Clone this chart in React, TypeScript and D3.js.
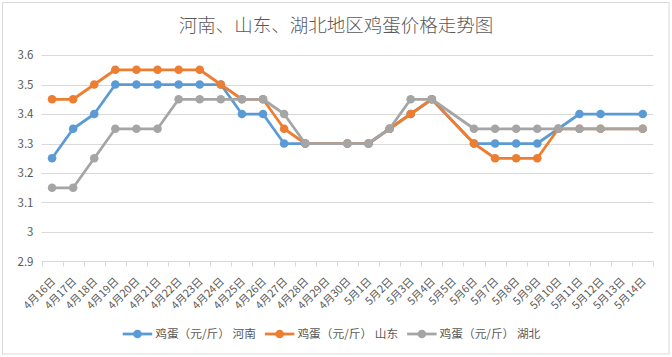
import React from "react";
import * as d3 from "d3";

const dates = [
  "4月16日","4月17日","4月18日","4月19日","4月20日","4月21日","4月22日","4月23日","4月24日","4月25日",
  "4月26日","4月27日","4月28日","4月29日","4月30日","5月1日","5月2日","5月3日","5月4日","5月5日",
  "5月6日","5月7日","5月8日","5月9日","5月10日","5月11日","5月12日","5月13日","5月14日",
];
const henan: (number | null)[] = [
  3.25,3.35,3.4,3.5,3.5,3.5,3.5,3.5,3.5,3.4,
  3.4,3.3,3.3,null,3.3,3.3,3.35,3.4,3.45,null,
  3.3,3.3,3.3,3.3,3.35,3.4,3.4,null,3.4,
];
const shandong: (number | null)[] = [
  3.45,3.45,3.5,3.55,3.55,3.55,3.55,3.55,3.5,3.45,
  3.45,3.35,3.3,null,3.3,3.3,3.35,3.4,3.45,null,
  3.3,3.25,3.25,3.25,3.35,3.35,3.35,null,3.35,
];
const hubei: (number | null)[] = [
  3.15,3.15,3.25,3.35,3.35,3.35,3.45,3.45,3.45,3.45,
  3.45,3.4,3.3,null,3.3,3.3,3.35,3.45,3.45,null,
  3.35,3.35,3.35,3.35,3.35,3.35,3.35,null,3.35,
];
const yTicks = [2.9, 3, 3.1, 3.2, 3.3, 3.4, 3.5, 3.6];
const seriesNames = ["鸡蛋（元/斤） 河南", "鸡蛋（元/斤） 山东", "鸡蛋（元/斤） 湖北"];
const seriesColors = ["#5B9BD5", "#ED7D31", "#A5A5A5"];
const title = "河南、山东、湖北地区鸡蛋价格走势图";

export default function App() {
  const W = 672, H = 357;
  const x = d3.scaleBand<string>().domain(dates).range([41.5, 653.3]).padding(0);
  const y = d3.scaleLinear().domain([2.9, 3.6]).range([261.5, 55]);
  const cx = (d: string) => (x(d) as number) + x.bandwidth() / 2;
  const series = [henan, shandong, hubei];
  const font = "'Noto Sans CJK SC', 'Noto Sans', sans-serif";
  const line = d3.line<{ d: string; v: number }>().x((p) => cx(p.d)).y((p) => y(p.v));
  const boundaries = dates.map((d) => x(d) as number).concat([x.range()[1]]);

  return (
    <svg width={W} height={H} style={{ position: "absolute", left: 0, top: 0, background: "#fff" }}>
      <rect x={2.5} y={2.5} width={666.5} height={351.5} fill="#fff" stroke="#d9d9d9" strokeWidth={1} />
      <text x={336} y={32} textAnchor="middle" fontFamily={font} fontSize={18.5} fontWeight={300} fill="#595959">{title}</text>
      {yTicks.map((t) => (
        <g key={t}>
          {t > 2.9 && <line x1={41.5} x2={653.3} y1={Math.round(y(t)) + 0.5} y2={Math.round(y(t)) + 0.5} stroke="#d9d9d9" strokeWidth={1} />}
          <text x={33.5} y={y(t)} dy="0.35em" textAnchor="end" fontFamily={font} fontSize={11.5} fill="#595959">{String(t)}</text>
        </g>
      ))}
      <line x1={41.5} x2={653.3} y1={261.5} y2={261.5} stroke="#d9d9d9" strokeWidth={1} />
      {boundaries.map((b, i) => (
        <line key={i} x1={Math.round(b) + 0.5} x2={Math.round(b) + 0.5} y1={261.5} y2={266.5} stroke="#d9d9d9" strokeWidth={1} />
      ))}
      {dates.map((d) => (
        <text key={d} transform={`translate(${cx(d) + 4},${282}) rotate(-45)`} textAnchor="end" fontFamily={font} fontSize={10.8} fill="#595959">{d}</text>
      ))}
      {series.map((s, si) => {
        const pts = dates.map((d, i) => ({ d, v: s[i] })).filter((p) => p.v != null) as { d: string; v: number }[];
        return (
          <g key={si}>
            <path d={line(pts) || ""} fill="none" stroke={seriesColors[si]} strokeWidth={2.75} strokeLinejoin="round" strokeLinecap="round" />
            {pts.map((p) => (
              <circle key={p.d} cx={cx(p.d)} cy={y(p.v)} r={4.3} fill={seriesColors[si]} />
            ))}
          </g>
        );
      })}
      {seriesNames.map((n, i) => {
        const lx = 122.7 + i * 142.2;
        const ly = 334;
        return (
          <g key={n}>
            <line x1={lx} x2={lx + 29.5} y1={ly} y2={ly} stroke={seriesColors[i]} strokeWidth={2.75} />
            <circle cx={lx + 14.75} cy={ly} r={4.3} fill={seriesColors[i]} />
            <text x={lx + 32.5} y={ly} dy="0.35em" fontFamily={font} fontSize={11.7} fill="#595959">{n}</text>
          </g>
        );
      })}
    </svg>
  );
}
